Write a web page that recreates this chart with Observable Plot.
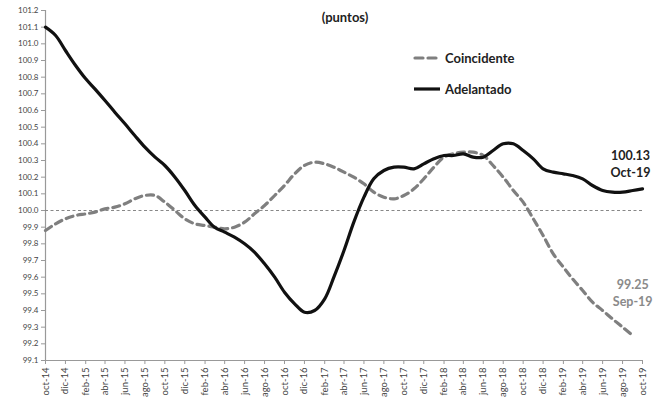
<!DOCTYPE html>
<html><head><meta charset="utf-8">
<script src="https://cdn.jsdelivr.net/npm/d3@7"></script>
<script src="https://cdn.jsdelivr.net/npm/@observablehq/plot@0.6"></script>
<style>
body{margin:0;background:#fff;font-family:Lato,"Open Sans",sans-serif;}
#wrap{position:relative;width:662px;height:402px;overflow:hidden;}
#title{position:absolute;left:0;width:690px;top:9px;text-align:center;font-weight:bold;font-size:13px;color:#222;}
.leg{position:absolute;left:413px;display:flex;align-items:center;font-weight:bold;font-size:13px;color:#222;}
.leg svg{margin-right:4px;}
</style></head><body>
<div id="wrap">
<div id="title">(puntos)</div>
<div class="leg" style="top:50px"><svg width="28" height="8"><line x1="2" y1="4" x2="26" y2="4" stroke="#7f7f7f" stroke-width="3.2" stroke-dasharray="8,5" stroke-linecap="round"/></svg>Coincidente</div>
<div class="leg" style="top:81px"><svg width="28" height="8"><line x1="1" y1="4" x2="27" y2="4" stroke="#111" stroke-width="3.2"/></svg>Adelantado</div>
</div>
<script>
const startMonth = "2014-10-01";
const adelantado = [101.10,101.05,100.96,100.87,100.79,100.73,100.66,100.59,100.52,100.45,
  100.38,100.32,100.27,100.20,100.12,100.03,99.96,99.90,99.87,99.84,
  99.80,99.75,99.68,99.60,99.51,99.44,99.39,99.40,99.47,99.60,
  99.76,99.93,100.08,100.19,100.24,100.26,100.26,100.25,100.28,100.31,
  100.33,100.33,100.34,100.32,100.32,100.36,100.40,100.40,100.36,100.31,
  100.25,100.23,100.22,100.21,100.19,100.15,100.12,100.11,100.11,100.12,100.13];
const coincidente = [99.88,99.92,99.95,99.97,99.98,99.99,100.01,100.02,100.04,100.07,
  100.09,100.09,100.05,100.00,99.95,99.92,99.91,99.90,99.89,99.90,
  99.93,99.98,100.03,100.09,100.15,100.22,100.27,100.29,100.28,100.26,
  100.23,100.20,100.16,100.11,100.08,100.07,100.09,100.13,100.19,100.26,
  100.32,100.34,100.35,100.35,100.33,100.27,100.20,100.12,100.05,99.95,
  99.85,99.74,99.66,99.59,99.52,99.45,99.40,99.35,99.30,99.25];
const tickLabels = ["oct-14","dic-14","feb-15","abr-15","jun-15","ago-15","oct-15","dic-15",
  "feb-16","abr-16","jun-16","ago-16","oct-16","dic-16","feb-17","abr-17","jun-17","ago-17",
  "oct-17","dic-17","feb-18","abr-18","jun-18","ago-18","oct-18","dic-18","feb-19","abr-19",
  "jun-19","ago-19","oct-19"];
const yTicks = [99.1,99.2,99.3,99.4,99.5,99.6,99.7,99.8,99.9,100.0,100.1,100.2,100.3,100.4,
  100.5,100.6,100.7,100.8,100.9,101.0,101.1,101.2];
const endLabels = {adelantado:"100.13\nOct-19", coincidente:"99.25\nSep-19"};

const d0 = new Date(startMonth + "T00:00:00Z");
const mDate = i => d3.utcMonth.offset(d0, i);
const adelData = adelantado.map((v,i)=>({date:mDate(i), v}));
const coinData = coincidente.map((v,i)=>({date:mDate(i), v}));
const tickDates = tickLabels.map((_,i)=>mDate(i*2));
const fmtTick = d => tickLabels[Math.round(d3.utcMonth.count(d0, d)/2)];

const chart = Plot.plot({
  width:662, height:402,
  marginLeft:45, marginRight:20, marginTop:10, marginBottom:42,
  style:{fontFamily:"Lato, 'Open Sans', sans-serif", color:"#444", background:"transparent"},
  x:{type:"utc", domain:[d0, mDate(60)]},
  y:{domain:[99.1,101.2]},
  marks:[
    Plot.axisX({ticks:tickDates, tickFormat:fmtTick, tickRotate:-90, tickSize:4, tickPadding:3, fontSize:9.5, label:null, stroke:"#999"}),
    Plot.axisY({ticks:yTicks, tickFormat:d3.format(".1f"), tickSize:4, tickPadding:3, fontSize:8, label:null, stroke:"#999"}),
    Plot.ruleX([d0], {stroke:"#999", strokeWidth:1.2}),
    Plot.ruleY([99.1], {stroke:"#999", strokeWidth:1.2}),
    Plot.ruleY([100], {stroke:"#888", strokeWidth:1, strokeDasharray:"3,2.5"}),
    Plot.line(coinData, {x:"date", y:"v", stroke:"#7f7f7f", strokeWidth:3.2, strokeDasharray:"7,5", strokeLinecap:"round", curve:"catmull-rom"}),
    Plot.line(adelData, {x:"date", y:"v", stroke:"#111", strokeWidth:3.2, curve:"catmull-rom"}),
    Plot.text(adelData.slice(-1), {x:"date", y:"v", text:()=>endLabels.adelantado, dx:-12, dy:-12, lineAnchor:"bottom", textAnchor:"middle", fontWeight:"bold", fontSize:12.5, fill:"#222", lineHeight:1.35}),
    Plot.text(coinData.slice(-1), {x:"date", y:"v", text:()=>endLabels.coincidente, dx:0, dy:-30, lineAnchor:"bottom", textAnchor:"middle", fontWeight:"bold", fontSize:12.5, fill:"#8a8a8a", lineHeight:1.35})
  ]
});
chart.style.position = "absolute";
chart.style.left = "0"; chart.style.top = "0";
document.getElementById("wrap").prepend(chart);
</script>
</body></html>
